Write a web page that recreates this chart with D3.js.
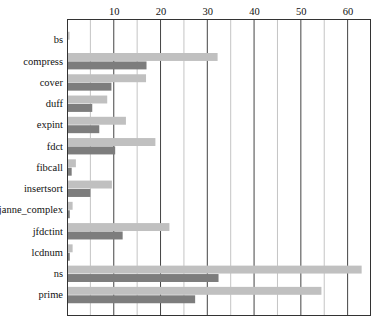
<!DOCTYPE html>
<html>
<head>
<meta charset="utf-8">
<script src="https://cdn.jsdelivr.net/npm/d3@7"></script>
<style>
  body { margin: 0; background: #fff; }
  text { font-family: "Liberation Serif", "Times New Roman", serif; }
</style>
</head>
<body>
<div id="chart"></div>
<script>
var categories = ["bs", "compress", "cover", "duff", "expint", "fdct", "fibcall",
                  "insertsort", "janne_complex", "jfdctint", "lcdnum", "ns", "prime"];
var lightValues = [0.55, 32.2, 16.9, 8.6, 12.6, 18.9, 1.9, 9.6, 1.2, 21.9, 1.2, 63.0, 54.4];
var darkValues  = [0.2, 17.0, 9.5, 5.4, 6.9, 10.3, 1.0, 5.0, 0.6, 11.9, 0.6, 32.4, 27.4];
var tickLabels = [10, 20, 30, 40, 50, 60];

var width = 372, height = 319,
    margin = {top: 19, right: 1, bottom: 3, left: 67};

var svg = d3.select("#chart").append("svg")
    .attr("width", width)
    .attr("height", height);

// scales
var x = d3.scaleLinear().domain([0, 65]).range([margin.left, width - margin.right]);
var y = d3.scaleBand().domain(categories)
    .range([margin.top, height - margin.bottom])
    .paddingInner(0.23).paddingOuter(0.6);
var sub = d3.scaleBand().domain(["light", "dark"]).range([0, y.bandwidth()]).paddingInner(0.06);

// minor grid at 5s
svg.append("g").selectAll("line")
    .data(d3.range(5, 65, 10)).enter().append("line")
    .attr("x1", function(d){ return x(d); })
    .attr("x2", function(d){ return x(d); })
    .attr("y1", margin.top).attr("y2", height - margin.bottom)
    .style("stroke", "#c4c4c4").style("stroke-width", 1);

// major grid at 10s
svg.append("g").selectAll("line")
    .data(tickLabels).enter().append("line")
    .attr("x1", function(d){ return x(d); })
    .attr("x2", function(d){ return x(d); })
    .attr("y1", margin.top).attr("y2", height - margin.bottom)
    .style("stroke", "#444").style("stroke-width", 1);

// bars
var groups = svg.append("g").selectAll("g")
    .data(categories).enter().append("g")
    .attr("transform", function(d){ return "translate(0," + y(d) + ")"; });

groups.append("rect")
    .attr("x", x(0))
    .attr("y", sub("light"))
    .attr("height", sub.bandwidth())
    .attr("width", function(d, i){ return x(lightValues[i]) - x(0); })
    .style("fill", "#c0c0c0");

groups.append("rect")
    .attr("x", x(0))
    .attr("y", sub("dark"))
    .attr("height", sub.bandwidth())
    .attr("width", function(d, i){ return x(darkValues[i]) - x(0); })
    .style("fill", "#7d7d7d");

// top axis labels
var xAxis = d3.axisTop(x).tickValues(tickLabels).tickSize(0).tickPadding(4);
var xAxisGroup = svg.append("g")
    .attr("transform", "translate(0," + margin.top + ")")
    .attr("font-family", null)
    .call(xAxis);
xAxisGroup.select(".domain").remove();
xAxisGroup.selectAll("text").style("font-size", "10.5px").style("fill", "#111");

// category labels
var yAxis = d3.axisLeft(y).tickSize(0).tickPadding(4);
var yAxisGroup = svg.append("g")
    .attr("transform", "translate(" + margin.left + ",0)")
    .call(yAxis);
yAxisGroup.attr("font-family", null);
xAxisGroup.attr("font-family", null);
yAxisGroup.select(".domain").remove();
yAxisGroup.selectAll("text").style("font-size", "10.5px").style("fill", "#111");

// frame
svg.append("rect")
    .attr("x", margin.left + 0.5)
    .attr("y", margin.top + 0.5)
    .attr("width", width - margin.right - margin.left - 1)
    .attr("height", height - margin.bottom - margin.top - 1)
    .style("fill", "none").style("stroke", "#333").style("stroke-width", 1);
</script>
</body>
</html>
